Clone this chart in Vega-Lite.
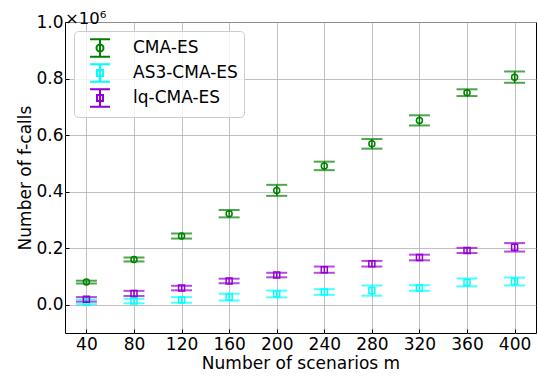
{
  "$schema": "https://vega.github.io/schema/vega-lite/v6.json",
  "width": 471,
  "height": 311,
  "autosize": {"type": "none"},
  "padding": {"left": 65, "top": 22, "right": 2, "bottom": 45},
  "background": "white",
  "title": {"text": "×10⁶", "anchor": "start", "frame": "group", "offset": -27, "baseline": "alphabetic", "fontSize": 16.5, "font": "DejaVu Sans", "fontWeight": "normal", "color": "black"},
  "config": {
    "font": "DejaVu Sans",
    "view": {"stroke": "black", "strokeWidth": 1},
    "axis": {
      "domain": false,
      "grid": true,
      "gridColor": "#b0b0b0",
      "gridWidth": 0.8,
      "tickColor": "black",
      "tickSize": -4,
      "tickWidth": 1,
      "labelFontSize": 17,
      "labelColor": "black",
      "titleFontSize": 17,
      "titleFontWeight": "normal",
      "titleColor": "black"
    }
  },
  "resolve": {"scale": {"shape": "independent", "color": "independent"}, "legend": {"shape": "independent", "color": "independent"}},
  "data": {
    "values": [
      {"m": 40, "method": "CMA-ES", "mean": 80000, "lo": 75000, "hi": 85000},
      {"m": 80, "method": "CMA-ES", "mean": 160000, "lo": 153000, "hi": 167000},
      {"m": 120, "method": "CMA-ES", "mean": 243000, "lo": 234000, "hi": 252000},
      {"m": 160, "method": "CMA-ES", "mean": 322000, "lo": 309000, "hi": 335000},
      {"m": 200, "method": "CMA-ES", "mean": 404000, "lo": 385000, "hi": 424000},
      {"m": 240, "method": "CMA-ES", "mean": 491000, "lo": 476000, "hi": 506000},
      {"m": 280, "method": "CMA-ES", "mean": 569000, "lo": 552000, "hi": 586000},
      {"m": 320, "method": "CMA-ES", "mean": 652000, "lo": 634000, "hi": 670000},
      {"m": 360, "method": "CMA-ES", "mean": 750000, "lo": 738000, "hi": 762000},
      {"m": 400, "method": "CMA-ES", "mean": 805000, "lo": 785000, "hi": 825000},
      {"m": 40, "method": "AS3-CMA-ES", "mean": 10000, "lo": 2000, "hi": 18000},
      {"m": 80, "method": "AS3-CMA-ES", "mean": 13000, "lo": 5000, "hi": 21000},
      {"m": 120, "method": "AS3-CMA-ES", "mean": 17000, "lo": 7000, "hi": 27000},
      {"m": 160, "method": "AS3-CMA-ES", "mean": 27000, "lo": 15000, "hi": 39000},
      {"m": 200, "method": "AS3-CMA-ES", "mean": 38000, "lo": 26000, "hi": 50000},
      {"m": 240, "method": "AS3-CMA-ES", "mean": 45000, "lo": 35000, "hi": 55000},
      {"m": 280, "method": "AS3-CMA-ES", "mean": 50000, "lo": 32000, "hi": 68000},
      {"m": 320, "method": "AS3-CMA-ES", "mean": 59000, "lo": 49000, "hi": 69000},
      {"m": 360, "method": "AS3-CMA-ES", "mean": 79000, "lo": 65000, "hi": 93000},
      {"m": 400, "method": "AS3-CMA-ES", "mean": 82000, "lo": 68000, "hi": 96000},
      {"m": 40, "method": "lq-CMA-ES", "mean": 19000, "lo": 11000, "hi": 27000},
      {"m": 80, "method": "lq-CMA-ES", "mean": 40000, "lo": 31000, "hi": 49000},
      {"m": 120, "method": "lq-CMA-ES", "mean": 59000, "lo": 51000, "hi": 67000},
      {"m": 160, "method": "lq-CMA-ES", "mean": 84000, "lo": 76000, "hi": 92000},
      {"m": 200, "method": "lq-CMA-ES", "mean": 105000, "lo": 97000, "hi": 113000},
      {"m": 240, "method": "lq-CMA-ES", "mean": 124000, "lo": 113000, "hi": 135000},
      {"m": 280, "method": "lq-CMA-ES", "mean": 145000, "lo": 135000, "hi": 155000},
      {"m": 320, "method": "lq-CMA-ES", "mean": 167000, "lo": 157000, "hi": 177000},
      {"m": 360, "method": "lq-CMA-ES", "mean": 192000, "lo": 183000, "hi": 201000},
      {"m": 400, "method": "lq-CMA-ES", "mean": 203000, "lo": 188000, "hi": 218000}
    ]
  },
  "encoding": {
    "x": {
      "field": "m", "type": "quantitative",
      "scale": {"domain": [22, 418], "nice": false, "zero": false},
      "axis": {"values": [40, 80, 120, 160, 200, 240, 280, 320, 360, 400], "title": "Number of scenarios m", "labelPadding": 7.5, "titlePadding": 2.5}
    }
  },
  "layer": [
    {
      "mark": {"type": "rule", "strokeWidth": 1.5},
      "encoding": {
        "y": {
          "field": "lo", "type": "quantitative",
          "scale": {"domain": [-100000, 1000000], "nice": false, "zero": false},
          "axis": {
            "values": [0, 200000, 400000, 600000, 800000, 1000000],
            "labelExpr": "format(datum.value / 1000000, '.1f')",
            "title": "Number of f-calls",
            "labelPadding": 6,
            "titlePadding": 1
          }
        },
        "y2": {"field": "hi"},
        "color": {"field": "method", "type": "nominal", "scale": {"domain": ["CMA-ES", "AS3-CMA-ES", "lq-CMA-ES"], "range": ["#008000", "#00ffff", "#9400d3"]}, "legend": null}
      }
    },
    {
      "mark": {"type": "tick", "orient": "horizontal", "size": 21, "thickness": 2},
      "encoding": {
        "y": {"field": "lo", "type": "quantitative"},
        "color": {"field": "method", "type": "nominal", "scale": {"domain": ["CMA-ES", "AS3-CMA-ES", "lq-CMA-ES"], "range": ["#008000", "#00ffff", "#9400d3"]}, "legend": null}
      }
    },
    {
      "mark": {"type": "tick", "orient": "horizontal", "size": 21, "thickness": 2},
      "encoding": {
        "y": {"field": "hi", "type": "quantitative"},
        "color": {"field": "method", "type": "nominal", "scale": {"domain": ["CMA-ES", "AS3-CMA-ES", "lq-CMA-ES"], "range": ["#008000", "#00ffff", "#9400d3"]}, "legend": null}
      }
    },
    {
      "mark": {"type": "point", "filled": false, "size": 36, "strokeWidth": 1.5, "opacity": 1},
      "encoding": {
        "y": {"field": "mean", "type": "quantitative"},
        "color": {"field": "method", "type": "nominal", "scale": {"domain": ["CMA-ES", "AS3-CMA-ES", "lq-CMA-ES"], "range": ["#008000", "#00ffff", "#9400d3"]}, "legend": null},
        "shape": {
          "field": "method", "type": "nominal",
          "scale": {"domain": ["CMA-ES", "AS3-CMA-ES", "lq-CMA-ES"], "range": ["circle", "square", "square"]},
          "legend": null
        }
      }
    },
    {
      "mark": {"type": "point", "filled": false, "size": 36, "strokeWidth": 2, "opacity": 0},
      "encoding": {
        "y": {"field": "mean", "type": "quantitative"},
        "color": {
          "field": "method", "type": "nominal",
          "scale": {"domain": ["CMA-ES", "AS3-CMA-ES", "lq-CMA-ES"], "range": ["#008000", "#00ffff", "#9400d3"]},
          "legend": {
            "title": null,
            "orient": "top-left",
            "offset": 9,
            "padding": 6,
            "strokeColor": "#cccccc",
            "fillColor": "rgba(255,255,255,0.8)",
            "cornerRadius": 4,
            "labelFontSize": 17,
            "labelColor": "black",
            "symbolSize": 400,
            "symbolStrokeWidth": 2,
            "symbolOpacity": 1,
            "symbolOffset": 9,
            "labelOffset": 22,
            "rowPadding": -1
          }
        },
        "shape": {
          "field": "method", "type": "nominal",
          "scale": {"domain": ["CMA-ES", "AS3-CMA-ES", "lq-CMA-ES"], "range": [
            "M0,-0.88V0.88M-1,-0.88H1M-1,0.88H1M0.35,0A0.35,0.35 0 1,1 -0.35,0A0.35,0.35 0 1,1 0.35,0",
            "M0,-0.88V0.88M-1,-0.88H1M-1,0.88H1M-0.3,-0.3H0.3V0.3H-0.3Z",
            "M0,-0.88V0.88M-1,-0.88H1M-1,0.88H1M-0.3,-0.3H0.3V0.3H-0.3Z"
          ]},
          "legend": {
            "title": null,
            "orient": "top-left",
            "offset": 9,
            "padding": 6,
            "strokeColor": "#cccccc",
            "fillColor": "rgba(255,255,255,0.8)",
            "cornerRadius": 4,
            "labelFontSize": 17,
            "labelColor": "black",
            "symbolSize": 400,
            "symbolStrokeWidth": 2,
            "symbolOpacity": 1,
            "symbolOffset": 9,
            "labelOffset": 22,
            "rowPadding": -1
          }
        }
      }
    }
  ]
}
